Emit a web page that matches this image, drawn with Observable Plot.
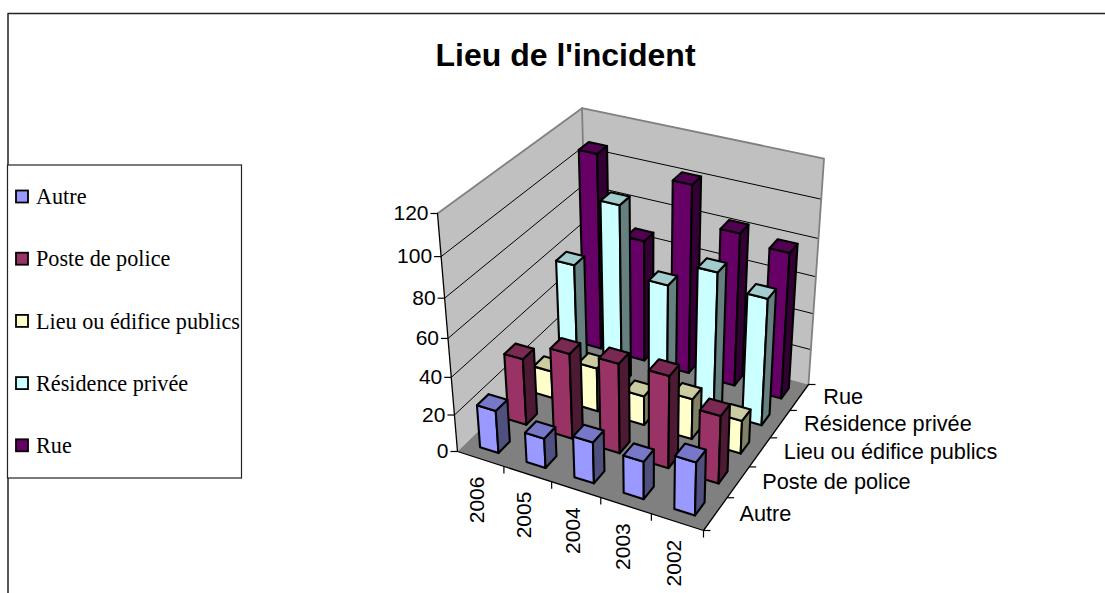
<!DOCTYPE html>
<html><head><meta charset="utf-8">
<style>html,body{margin:0;padding:0;background:#fff}svg{display:block}</style>
<script src="https://cdn.jsdelivr.net/npm/d3@7"></script>
<script src="https://cdn.jsdelivr.net/npm/@observablehq/plot@0.6"></script>
</head><body><div id="chart"></div>
<script>
const years = ["2006","2005","2004","2003","2002"];
const series = ["Autre","Poste de police","Lieu ou édifice publics","Résidence privée","Rue"];
const autre = [23,16,22,20,28];
const poste = [36,46,48,49,36];
const lieu = [15,24,16,22,18];
const residence = [60,97,62,75,68];
const rue = [107,67,102,83,79];
const rows = [autre,poste,lieu,residence,rue];
const faceColors = [
  ["#9999FF","#7878C8","#50507F"],
  ["#993366","#7A2952","#4D1A33"],
  ["#FFFFCC","#CCCCA3","#808066"],
  ["#CCFFFF","#A3CCCC","#668080"],
  ["#660066","#520052","#330033"]
];
const yTicks = [0,20,40,60,80,100,120];
const maxV = 120;

// camera: homography from box coordinates (u along years, v along series, w height) to the page
function P(u,v,w){
  const d = 1 - 0.06998*u + 0.14637*v - 0.095*w;
  return [(457 + 196.80*u + 215.92*v - 61.52*w)/d,
          (451 + 41.91*u - 79.58*v - 258.24*w)/d];
}
const faces = [];
let id = 0;
function addFace(pts, fill, stroke){
  const z = id++;
  for (const p of pts){ const [x,y] = P(...p); faces.push({x,y,z,fill,stroke}); }
}
// walls + floor
addFace([[0,0,0],[0,1,0],[0,1,1],[0,0,1]],"#C0C0C0","none");
addFace([[0,1,0],[1,1,0],[1,1,1],[0,1,1]],"#C0C0C0","none");
addFace([[0,0,0],[1,0,0],[1,1,0],[0,1,0]],"#808080","none");

const gridLines = [];
for (const t of yTicks.slice(1,-1)) {
  const w=t/maxV;
  for (const p of [[0,0,w],[0,1,w],[1,1,w]]) { const [x,y]=P(...p); gridLines.push({x,y,t}); }
}
const wallEdges = [[[0,0,1],[0,1,1],[1,1,1],[1,1,0]],[[0,1,0],[0,1,1]]].flatMap((e,i)=>e.map(p=>{const [x,y]=P(...p);return {x,y,i};}));
const axisEdges = [[0,0,1],[0,0,0],[1,0,0],[1,1,0]].map(p=>{const [x,y]=P(...p);return {x,y};});

// bars, painted back to front, left to right
for (let s=series.length-1;s>=0;s--){
  for (let i=0;i<years.length;i++){
    const u0=(i+.3)/5,u1=(i+.7)/5,v0=(s+.3)/5,v1=(s+.7)/5,w=rows[s][i]/maxV;
    const [f,t,r]=faceColors[s];
    addFace([[u0,v0,0],[u1,v0,0],[u1,v0,w],[u0,v0,w]],f,"#000");
    addFace([[u1,v0,0],[u1,v1,0],[u1,v1,w],[u1,v0,w]],r,"#000");
    addFace([[u0,v0,w],[u1,v0,w],[u1,v1,w],[u0,v1,w]],t,"#000");
  }
}
const pt = (u,v,w,extra)=>{const [x,y]=P(u,v,w);return {x,y,...extra};};
const yTickData = yTicks.map(t=>pt(0,0,t/maxV,{t}));
const yearTicks = d3.range(1,6).map(i=>pt(i/5,0,0));
const seriesTicks = d3.range(0,6).map(i=>pt(1,i/5,0));
const yearLabels = years.map((label,i)=>pt((i+.5)/5,0,0,{label}));
const seriesLabels = series.map((label,i)=>pt(1,(i+.5)/5,0,{label}));
const legend = series.map((label,i)=>({label,i,fill:faceColors[i][0]}));
const legendY = i => 196.5 + i*62.2;
const sans = "Liberation Sans", serif = "Liberation Serif";

const chart = Plot.plot({
  width:1105,height:593,margin:0,
  x:{domain:[0,1105],range:[0,1105],axis:null},
  y:{domain:[0,593],range:[0,593],axis:null},
  color:{type:"identity"},
  marks:[
    Plot.line([{x:7.5,y:593},{x:7.5,y:13},{x:1105,y:13}],{x:"x",y:"y",stroke:"#222",strokeWidth:1.5}),
    Plot.line(faces.filter(d=>d.z<3),{x:"x",y:"y",z:"z",fill:"fill",stroke:"none",curve:"linear-closed"}),
    Plot.line(gridLines,{x:"x",y:"y",z:"t",stroke:"#000",strokeWidth:1}),
    Plot.line(wallEdges,{x:"x",y:"y",z:"i",stroke:"#808080",strokeWidth:1.8}),
    Plot.line(axisEdges,{x:"x",y:"y",stroke:"#000",strokeWidth:1.3}),
    Plot.link(yTickData,{x1:"x",y1:"y",x2:d=>d.x-7,y2:"y",stroke:"#000",strokeWidth:1.2}),
    Plot.link(yearTicks,{x1:"x",y1:"y",x2:"x",y2:d=>d.y+7,stroke:"#000",strokeWidth:1.2}),
    Plot.link(seriesTicks,{x1:"x",y1:"y",x2:d=>d.x+7,y2:"y",stroke:"#000",strokeWidth:1.2}),
    Plot.line(faces.filter(d=>d.z>=3),{x:"x",y:"y",z:"z",fill:"fill",stroke:"stroke",strokeWidth:2.1,curve:"linear-closed",strokeLinejoin:"round"}),
    Plot.text(yTickData,{x:"x",y:"y",text:d=>String(d.t),dx:-9,textAnchor:"end",lineAnchor:"middle",fontFamily:sans,fontSize:21,fill:"#000"}),
    Plot.text(yearLabels,{x:"x",y:"y",text:"label",dx:-3,dy:41,rotate:-90,textAnchor:"middle",lineAnchor:"middle",fontFamily:sans,fontSize:21,fill:"#000"}),
    Plot.text(seriesLabels,{x:"x",y:"y",text:"label",dx:24,textAnchor:"start",lineAnchor:"middle",fontFamily:sans,fontSize:21.7,fill:"#000"}),
    Plot.text(["Lieu de l'incident"],{x:()=>565,y:()=>55,text:d=>d,textAnchor:"middle",lineAnchor:"middle",fontFamily:sans,fontWeight:"bold",fontSize:32,fill:"#000"}),
    Plot.rect([0],{x1:()=>7.5,x2:()=>241.5,y1:()=>165,y2:()=>478,fill:"#fff",stroke:"#222",strokeWidth:1.2}),
    Plot.rect(legend,{x1:()=>16,x2:()=>28,y1:d=>legendY(d.i)-6,y2:d=>legendY(d.i)+6,fill:"fill",stroke:"#000",strokeWidth:1.8}),
    Plot.text(legend,{x:()=>35.5,y:d=>legendY(d.i),text:"label",textAnchor:"start",lineAnchor:"middle",fontFamily:serif,fontSize:22.2,fill:"#000"})
  ]
});
document.getElementById("chart").append(chart);
</script></body></html>
